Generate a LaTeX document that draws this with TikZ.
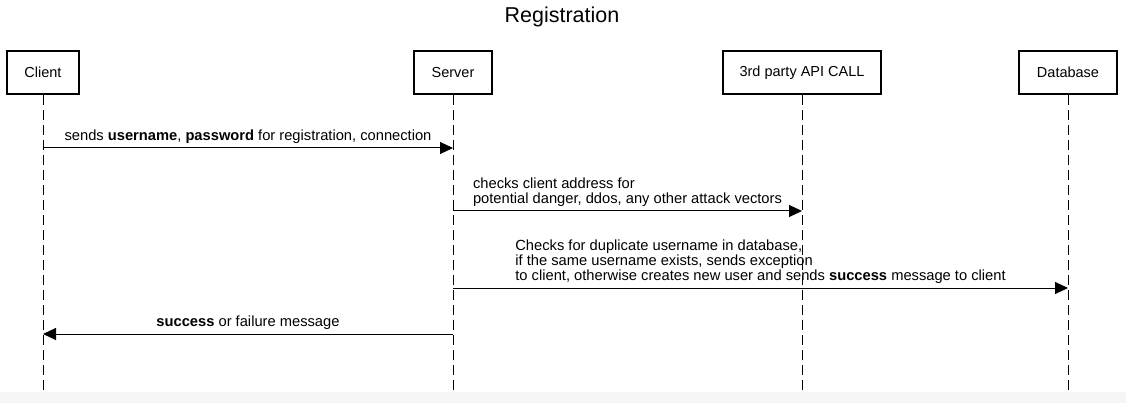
\documentclass[tikz,border=0pt]{standalone}
\usepackage{fontspec}
\setmainfont{Liberation Sans}
\usetikzlibrary{arrows.meta}
\definecolor{footgray}{HTML}{F5F5F5}

\begin{document}
\begin{tikzpicture}[x=1pt,y=-1pt,
    actor/.style={draw,line width=2pt,minimum height=43pt,inner sep=0pt,font=\fontsize{14.5}{15}\selectfont},
    lifeline/.style={line width=1pt,dash pattern=on 10pt off 5pt},
    msg/.style={line width=1pt,-{Triangle[length=13pt,width=12pt]}},
    msgtext/.style={above=4pt,inner sep=0pt,align=left,font=\fontsize{14.7}{15.2}\selectfont}]
    \useasboundingbox (0,0) rectangle (1126,403);
    \fill[footgray] (0,392) rectangle (1126,403);
    \node[font=\fontsize{21.5}{24}\selectfont] (title) at (562,17) {Registration};
    % participants
    \node[actor,minimum width=72pt] (client) at (43,72.5) {Client};
    \node[actor,minimum width=78pt] (server) at (453,72.5) {Server};
    \node[actor,minimum width=158pt] (api) at (802,72.5) {3rd party API CALL};
    \node[actor,minimum width=98pt] (db) at (1068,72.5) {Database};
    \foreach \p in {client,server,api,db}
        \draw[lifeline] (\p.south) -- (\p.south |- 0,392);
    % messages
    \draw[msg] (client.south |- 0,148) -- node[msgtext] {sends \textbf{username}, \textbf{password} for registration, connection} (server.south |- 0,148);
    \draw[msg] (server.south |- 0,211) -- node[msgtext] {checks client address for\\potential danger, ddos, any other attack vectors} (api.south |- 0,211);
    \draw[msg] (server.south |- 0,288) -- node[msgtext] {Checks for duplicate username in database,\\if the same username exists, sends exception\\to client, otherwise creates new user and sends \textbf{success} message to client} (db.south |- 0,288);
    \draw[msg] (server.south |- 0,334) -- node[msgtext] {\textbf{success} or failure message} (client.south |- 0,334);
\end{tikzpicture}
\end{document}
